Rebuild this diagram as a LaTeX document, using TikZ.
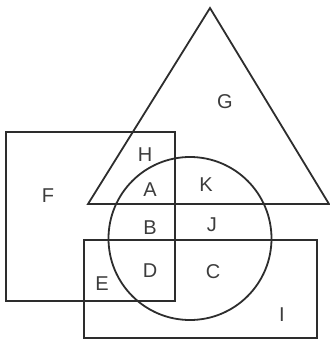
\documentclass[tikz,border=0pt]{standalone}
\usepackage{fontspec}
\setmainfont{Liberation Sans}
\definecolor{VennLine}{RGB}{45,45,45}
\definecolor{VennText}{RGB}{60,60,60}
\tikzset{
  venn/shape/.style={
    draw=VennLine,
    line width=1.8pt,
    line join=miter
  },
  venn/label/.style={
    text=VennText,
    font=\fontsize{20}{24}\selectfont,
    inner sep=0pt
  }
}

\begin{document}
\begin{tikzpicture}[x=1pt,y=-1pt]
  \useasboundingbox (0,0) rectangle (330,341);
  % sets
  \draw[venn/shape] (210,8) -- (329,204) -- (88,204) -- cycle;
  \draw[venn/shape] (6,132) rectangle (175,301);
  \draw[venn/shape] (84,240) rectangle (317,338);
  \draw[venn/shape] (190,238.5) circle[radius=81.5];
  % region labels
  \foreach \name/\x/\y in {G/225/102,F/48/196,H/145/155,A/150/190,K/206/185,
                           B/150/228,J/212/225,D/150/271,C/213/272,E/102/284,I/282/315}{
    \node[venn/label] (lbl\name) at (\x,\y) {\name};
  }
\end{tikzpicture}
\end{document}
